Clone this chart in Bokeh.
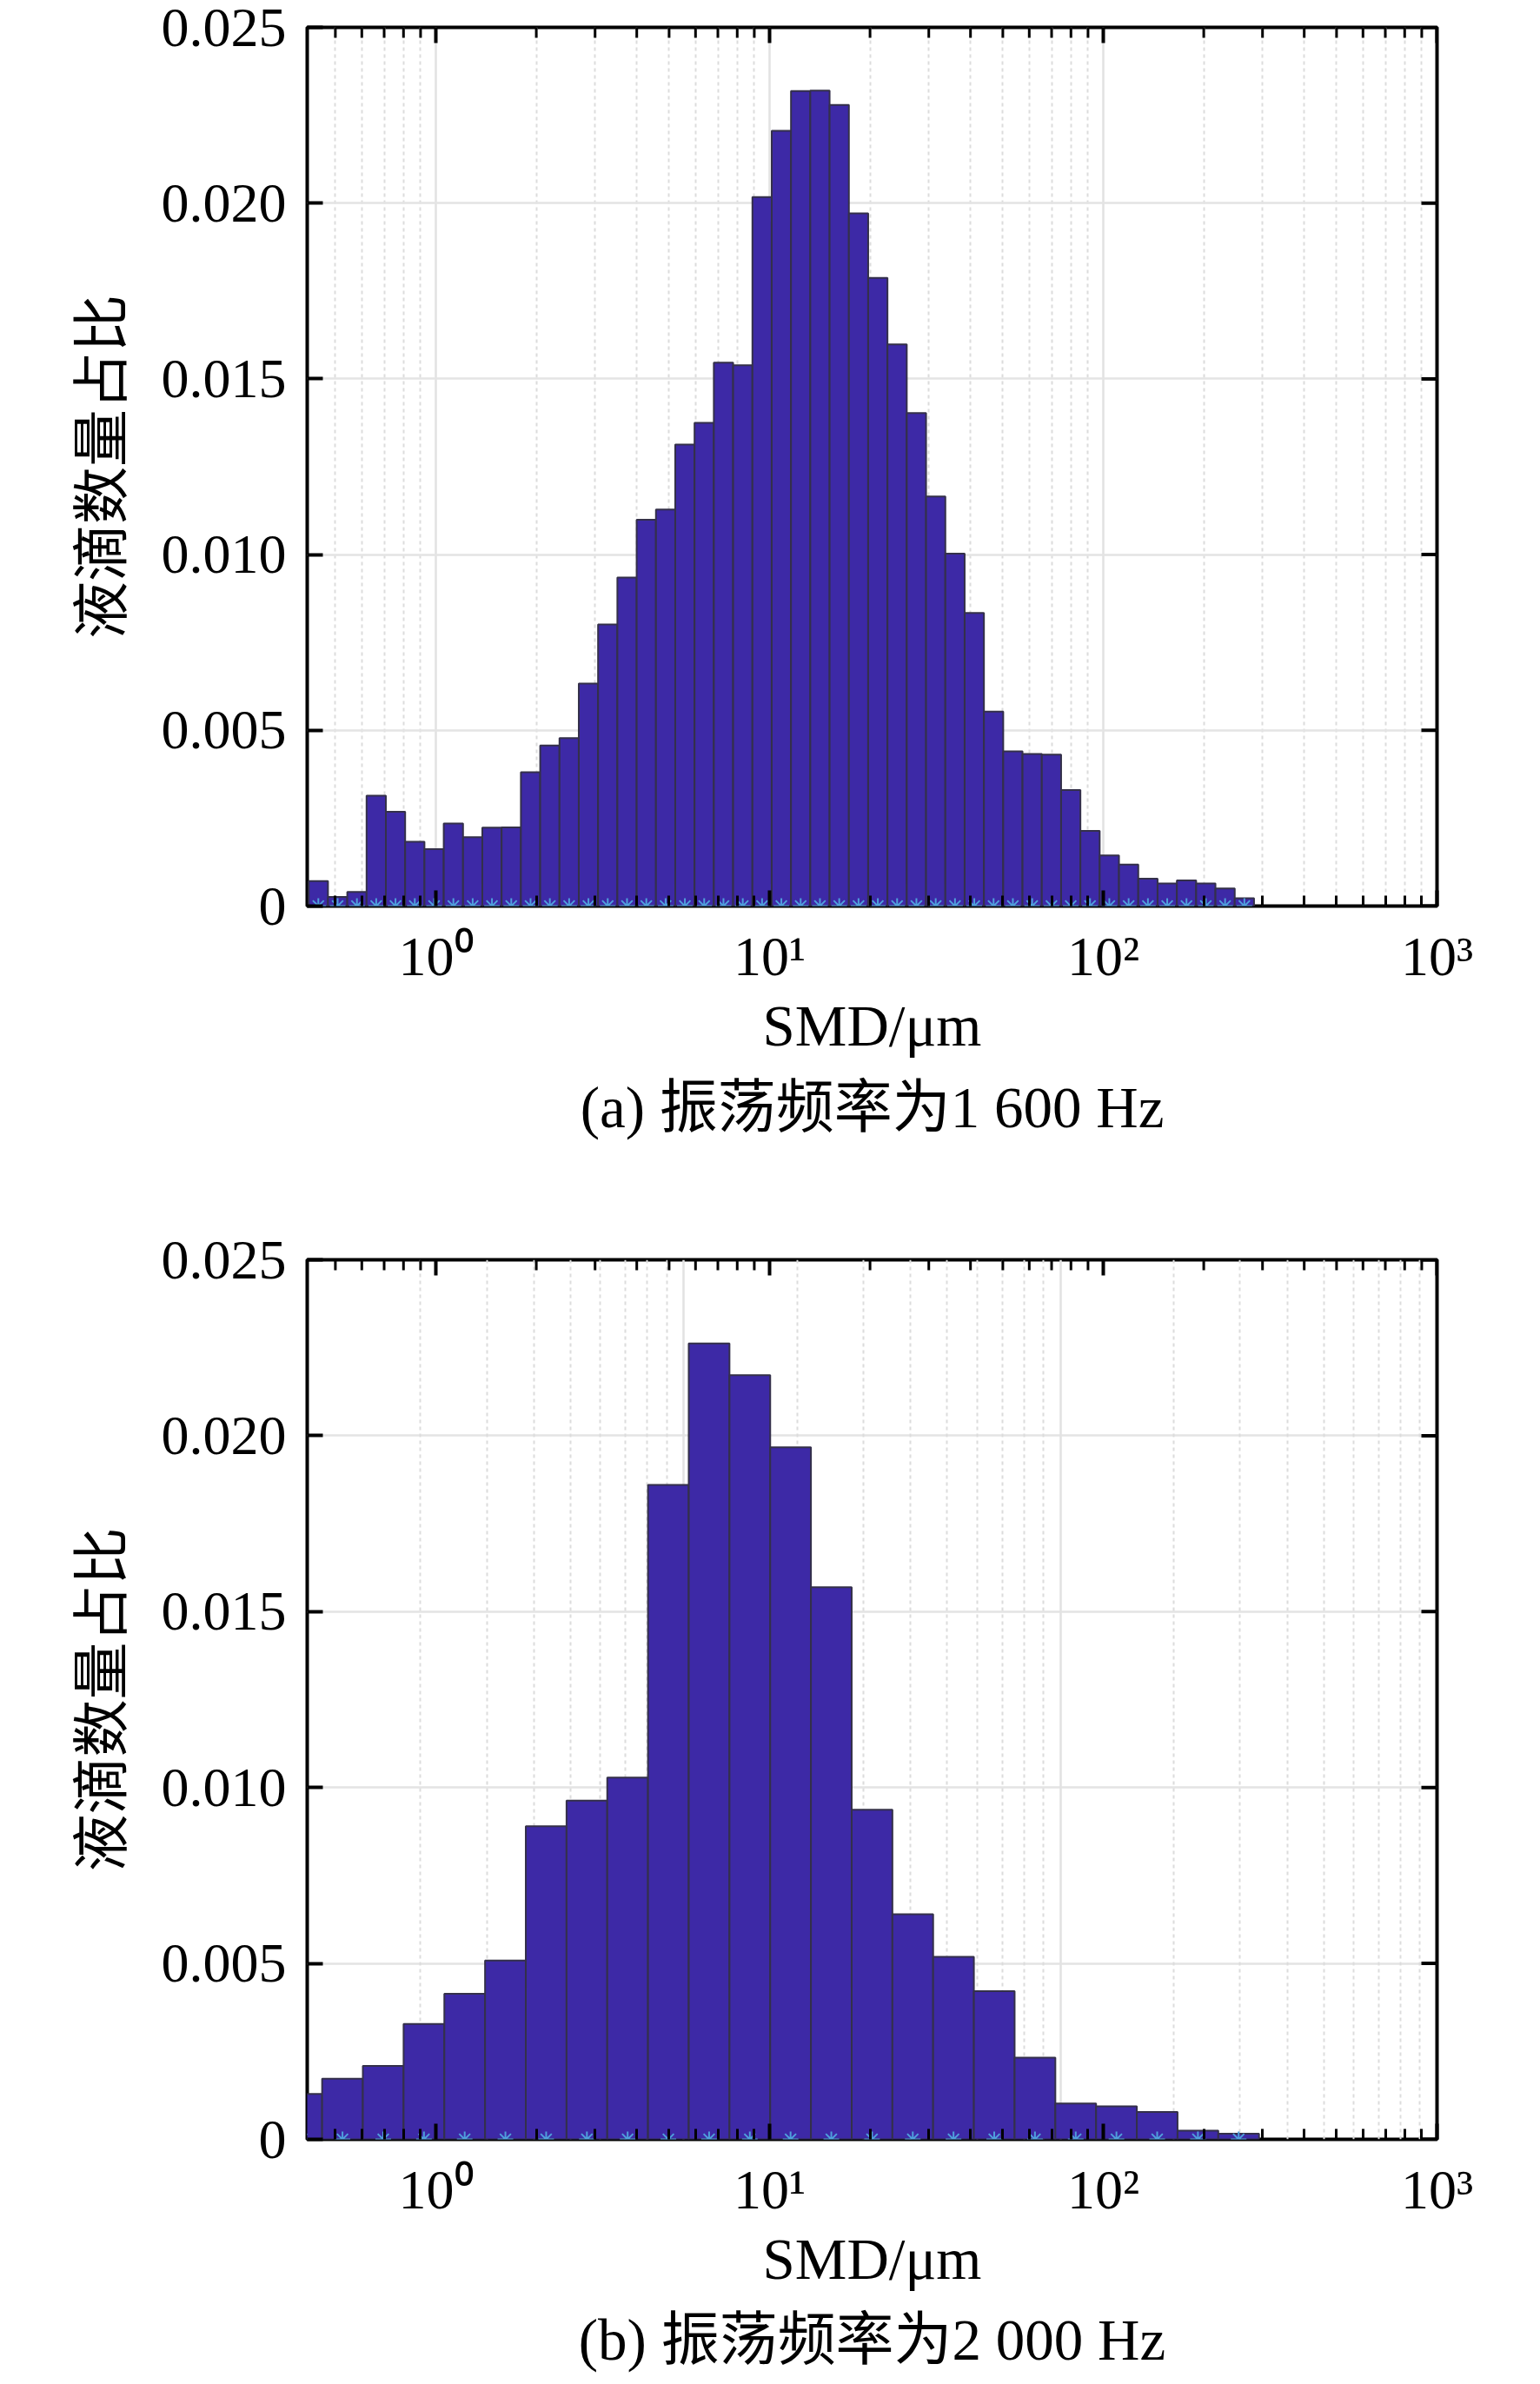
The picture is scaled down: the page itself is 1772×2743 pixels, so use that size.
import numpy as np
from bokeh.plotting import figure
from bokeh.models import (Range1d, FixedTicker, CustomJSTickFormatter,
                          Title, Grid, LogScale, ColumnDataSource)
from bokeh.layouts import column
from bokeh.embed import file_html
from bokeh.resources import INLINE

# ---------------- data ----------------
# panel (a): oscillation frequency 1 600 Hz, 49 log-spaced bins
heights_a = [0.00071, 0.00026, 0.00040, 0.00314, 0.00268, 0.00183, 0.00162, 0.00235, 0.00196,
             0.00223, 0.00224, 0.00381, 0.00457, 0.00478, 0.00633, 0.00801, 0.00935, 0.01099,
             0.01128, 0.01313, 0.01375, 0.01546, 0.01539, 0.02017, 0.02206, 0.02319, 0.02320,
             0.02279, 0.01971, 0.01787, 0.01598, 0.01403, 0.01165, 0.01003, 0.00834, 0.00553,
             0.00440, 0.00433, 0.00431, 0.00330, 0.00214, 0.00144, 0.00118, 0.00078, 0.00064,
             0.00073, 0.00064, 0.00050, 0.00022]
log_edge0_a = -0.381     # log10 of first bin edge (um)
log_width_a = 0.05781    # bin width in decades

# panel (b): oscillation frequency 2 000 Hz, 24 log-spaced bins
heights_b = [0.00129, 0.00172, 0.00209, 0.00328, 0.00414, 0.00508, 0.00890, 0.00963, 0.01028,
             0.01860, 0.02262, 0.02172, 0.01967, 0.01569, 0.00937, 0.00640, 0.00519, 0.00421,
             0.00232, 0.00102, 0.00094, 0.00078, 0.00025, 0.00016]
log_edge0_b = -0.4628
log_width_b = 0.12206

x_limits = [0.4117, 1000.0]
y_limits = [0.0, 0.025]
x_major_ticks = [1, 10, 100, 1000]
x_major_labels = ["10\u2070", "10\u00b9", "10\u00b2", "10\u00b3"]
x_minor_ticks = [m * 10.0 ** e for e in range(-1, 3) for m in range(2, 10)]
y_ticks = [0.0, 0.005, 0.010, 0.015, 0.020, 0.025]
y_tick_labels = ["0", "0.005", "0.010", "0.015", "0.020", "0.025"]
# panel (b) of the source shows a grid belonging to a 10^-1 .. 10^2 axis
grid_b_limits = [0.1, 100.0]
grid_b_major = [0.1, 1, 10, 100]

x_label = "SMD/\u03bcm"
y_label = "液滴数量占比"
captions = ["(a) 振荡频率为1 600 Hz", "(b) 振荡频率为2 000 Hz"]

# ---------------- styles ----------------
SERIF = "'Liberation Serif', 'Noto Sans CJK SC'"
CJK = "'Noto Sans CJK SC'"
BAR_FILL = "#3d29a6"
BAR_EDGE = "#34304a"
MARK = "#4f9fdc"

FMT_CODE = """
for (let i = 0; i < vals.length; i++) {
  if (Math.abs(tick - vals[i]) <= 1e-9 * Math.max(1, Math.abs(vals[i]))) return labs[i];
}
return '';
"""


def style_axis(ax):
    ax.axis_line_color = None
    ax.major_tick_line_color = "black"
    ax.minor_tick_line_color = "black"
    ax.major_tick_line_width = 4
    ax.minor_tick_line_width = 3
    ax.major_tick_in = 18
    ax.major_tick_out = 0
    ax.minor_tick_in = 12
    ax.minor_tick_out = 0
    ax.major_label_text_font = SERIF
    ax.major_label_text_color = "black"
    ax.major_label_text_font_size = "64px"


def make_panel(heights, e0, w, caption, height, top_border, bottom_border, alt_grid, cap_standoff):
    n = len(heights)
    k = np.arange(n)
    left = 10.0 ** (e0 + w * k)
    right = 10.0 ** (e0 + w * (k + 1))
    centers = np.sqrt(left * right)
    src = ColumnDataSource(dict(left=left, right=right, top=heights,
                                xc=centers, y0=np.zeros(n)))

    p = figure(width=1772, height=height, x_axis_type="log",
               x_range=Range1d(*x_limits), y_range=Range1d(*y_limits),
               output_backend="svg", toolbar_location=None,
               min_border_left=353, min_border_right=119,
               min_border_top=top_border, min_border_bottom=bottom_border)
    p.background_fill_color = "white"
    p.border_fill_color = "white"
    p.outline_line_color = "black"
    p.outline_line_width = 4

    xt = FixedTicker(ticks=x_major_ticks, minor_ticks=x_minor_ticks)
    yt = FixedTicker(ticks=y_ticks)
    xfmt = CustomJSTickFormatter(args=dict(vals=x_major_ticks, labs=x_major_labels), code=FMT_CODE)
    yfmt = CustomJSTickFormatter(args=dict(vals=y_ticks, labs=y_tick_labels), code=FMT_CODE)

    p.xaxis.ticker = xt
    p.xaxis.formatter = xfmt
    style_axis(p.xaxis[0])
    p.xaxis.major_label_standoff = 22
    p.xaxis.axis_label = x_label
    p.xaxis.axis_label_text_font = SERIF
    p.xaxis.axis_label_text_font_style = "normal"
    p.xaxis.axis_label_text_color = "black"
    p.xaxis.axis_label_text_font_size = "67px"
    p.xaxis.axis_label_standoff = 4

    p.yaxis.ticker = yt
    p.yaxis.formatter = yfmt
    style_axis(p.yaxis[0])
    p.yaxis.major_label_standoff = 24
    p.yaxis.axis_label = y_label
    p.yaxis.axis_label_text_font = CJK
    p.yaxis.axis_label_text_font_style = "normal"
    p.yaxis.axis_label_text_color = "black"
    p.yaxis.axis_label_text_font_size = "66px"
    p.yaxis.axis_label_standoff = 24

    # grids
    p.ygrid.ticker = yt
    p.ygrid.grid_line_color = "#e4e4e4"
    p.ygrid.grid_line_width = 2.5
    if alt_grid is None:
        p.xgrid.ticker = xt
        p.xgrid.grid_line_color = "#e2e2e2"
        p.xgrid.grid_line_width = 2.5
        p.xgrid.minor_grid_line_color = "#dcdcdc"
        p.xgrid.minor_grid_line_width = 2
        p.xgrid.minor_grid_line_dash = "4 4"
    else:
        p.xgrid.grid_line_color = None
        p.extra_x_ranges = {"gridb": Range1d(*alt_grid)}
        p.extra_x_scales = {"gridb": LogScale()}
        gminor = [m * 10.0 ** e for e in range(-1, 2) for m in range(2, 10)]
        g = Grid(dimension=0, x_range_name="gridb",
                 ticker=FixedTicker(ticks=grid_b_major, minor_ticks=gminor),
                 grid_line_color="#e2e2e2", grid_line_width=2.5,
                 minor_grid_line_color="#dcdcdc", minor_grid_line_width=2,
                 minor_grid_line_dash="4 4")
        p.add_layout(g, "center")

    p.quad(left="left", right="right", bottom=0, top="top", source=src,
           fill_color=BAR_FILL, line_color=BAR_EDGE, line_width=2)
    p.scatter(x="xc", y="y0", source=src, marker="asterisk", size=18,
              line_color=MARK, line_width=2)

    # mirrored inward ticks on the top and right edges (half of each dash is clipped)
    xmaj = [t for t in x_major_ticks if x_limits[0] <= t <= x_limits[1]]
    xmin_ = [t for t in x_minor_ticks if x_limits[0] <= t <= x_limits[1]]
    p.scatter(x=xmaj, y=[y_limits[1]] * len(xmaj), marker="dash", size=36,
              angle=np.pi / 2, line_color="black", line_width=4)
    p.scatter(x=xmin_, y=[y_limits[1]] * len(xmin_), marker="dash", size=24,
              angle=np.pi / 2, line_color="black", line_width=3)
    p.scatter(x=[x_limits[1]] * len(y_ticks), y=y_ticks, marker="dash", size=36,
              line_color="black", line_width=4)

    t = Title(text=caption, align="center", text_font=SERIF, text_font_size="67px",
              text_font_style="normal", text_color="black", standoff=cap_standoff, offset=-7)
    p.add_layout(t, "below")
    return p


p1 = make_panel(heights_a, log_edge0_a, log_width_a, captions[0], 1380, 31, 338, None, 31)
p2 = make_panel(heights_b, log_edge0_b, log_width_b, captions[1], 1363, 69, 282, grid_b_limits, 29)

layout = column(p1, p2)
open("out.html", "w").write(file_html(layout, INLINE))
